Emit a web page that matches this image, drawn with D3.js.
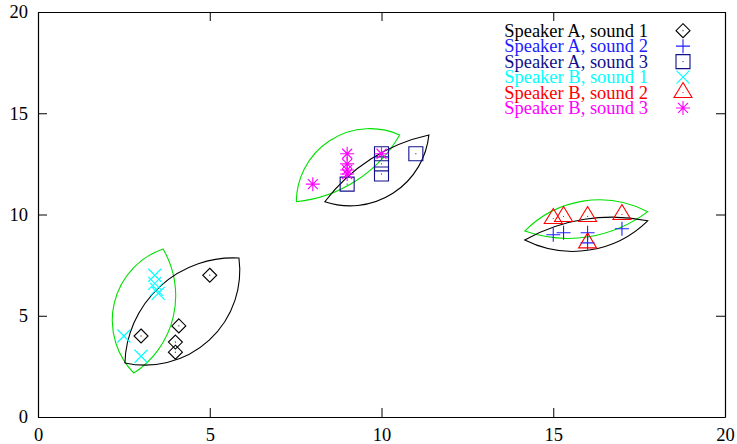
<!DOCTYPE html>
<html>
<head>
<meta charset="utf-8">
<script src="https://cdn.jsdelivr.net/npm/d3@7"></script>
<style>
  html, body { margin: 0; padding: 0; background: #fff; }
  svg { display: block; }
  text { font-family: "Liberation Serif", "DejaVu Serif", serif; }
</style>
</head>
<body>
<div id="chart"></div>
<script>
// ---- data -------------------------------------------------------------
const seriesNames = [
  "Speaker A, sound 1", "Speaker A, sound 2", "Speaker A, sound 3",
  "Speaker B, sound 1", "Speaker B, sound 2", "Speaker B, sound 3"
];
const seriesColors = ["#000000", "#2020ff", "#10108c", "#00ffff", "#ff0000", "#ff00ff"];
const seriesMarkers = ["diamond", "plus", "square", "cross", "triangle", "star"];

const speakerA_sound1_x = [3, 4.1, 4, 4, 5];
const speakerA_sound1_y = [4, 4.5, 3.7, 3.2, 7];
const speakerA_sound2_x = [15, 15.3, 16, 16, 17];
const speakerA_sound2_y = [9, 9.1, 9.1, 8.6, 9.3];
const speakerA_sound3_x = [9, 10, 10, 10, 11];
const speakerA_sound3_y = [11.5, 13, 12.5, 12, 13];
const speakerB_sound1_x = [2.5, 3, 3.4, 3.4, 3.45, 3.5];
const speakerB_sound1_y = [4, 3, 7, 6.6, 6.3, 6.1];
const speakerB_sound2_x = [15, 15.3, 16, 16, 17];
const speakerB_sound2_y = [9.8, 9.9, 9.9, 8.6, 10];
const speakerB_sound3_x = [8, 9, 9, 9, 9, 10];
const speakerB_sound3_y = [11.5, 13, 12.5, 12.2, 12, 13];

const seriesX = [speakerA_sound1_x, speakerA_sound2_x, speakerA_sound3_x,
                 speakerB_sound1_x, speakerB_sound2_x, speakerB_sound3_x];
const seriesY = [speakerA_sound1_y, speakerA_sound2_y, speakerA_sound3_y,
                 speakerB_sound1_y, speakerB_sound2_y, speakerB_sound3_y];

// Cluster outlines: two tips (x1,y1)-(x2,y2) and the bulge of each side
// as a fraction of the tip-to-tip distance.
const lensSpeakerA_x1 = [2.53, 8.35, 14.17];
const lensSpeakerA_y1 = [2.67, 10.63, 8.74];
const lensSpeakerA_x2 = [5.85, 11.38, 17.75];
const lensSpeakerA_y2 = [7.85, 13.93, 9.69];
const lensSpeakerA_bulge1 = [0.21, 0.09, 0.09];
const lensSpeakerA_bulge2 = [0.26, 0.24, 0.16];

const lensSpeakerB_x1 = [2.79, 7.52, 14.17];
const lensSpeakerB_y1 = [2.17, 10.63, 9.18];
const lensSpeakerB_x2 = [3.64, 10.53, 17.75];
const lensSpeakerB_y2 = [8.30, 13.93, 10.14];
const lensSpeakerB_bulge1 = [0.275, 0.27, 0.165];
const lensSpeakerB_bulge2 = [0.2, 0.12, 0.125];

const xTicks = [0, 5, 10, 15, 20];
const yTicks = [0, 5, 10, 15, 20];

// ---- layout -----------------------------------------------------------
const W = 737, H = 444;
const plotLeft = 38, plotRight = 725, plotTop = 12, plotBottom = 417;
const fontSize = 18.5;

const x = d3.scaleLinear().domain([0, 20]).range([plotLeft, plotRight]);
const y = d3.scaleLinear().domain([0, 20]).range([plotBottom, plotTop]);

const svg = d3.select("#chart").append("svg")
  .attr("width", W).attr("height", H);

// ---- frame and ticks --------------------------------------------------
const tickLen = 9;
const axisB = d3.axisBottom(x).tickValues(xTicks).tickSize(-tickLen).tickSizeOuter(0).tickPadding(11);
const axisT = d3.axisTop(x).tickValues(xTicks).tickSize(-tickLen).tickSizeOuter(0).tickFormat("");
const axisL = d3.axisLeft(y).tickValues(yTicks).tickSize(-tickLen).tickSizeOuter(0).tickPadding(10);
const axisR = d3.axisRight(y).tickValues(yTicks).tickSize(-tickLen).tickSizeOuter(0).tickFormat("");

function styleAxis(g) {
  g.attr("font-family", '"Liberation Serif", serif');
  g.select(".domain").attr("stroke", "#000").attr("stroke-width", 1.2);
  g.selectAll(".tick line").attr("stroke", "#000").attr("stroke-width", 1);
  g.selectAll("text").attr("fill", "#000")
    .style("font-family", '"Liberation Serif", serif').style("font-size", fontSize + "px");
}
svg.append("g").attr("transform", `translate(0,${plotBottom})`).call(axisB).call(styleAxis);
svg.append("g").attr("transform", `translate(0,${plotTop})`).call(axisT).call(styleAxis);
svg.append("g").attr("transform", `translate(${plotLeft},0)`).call(axisL).call(styleAxis);
svg.append("g").attr("transform", `translate(${plotRight},0)`).call(axisR).call(styleAxis);

// ---- lens outlines ----------------------------------------------------
function lensPath(x1, y1, x2, y2, b1, b2) {
  const p1 = [x(x1), y(y1)], p2 = [x(x2), y(y2)];
  const L = Math.hypot(p2[0] - p1[0], p2[1] - p1[1]);
  const s1 = b1 * L, s2 = b2 * L;
  const r1 = (L * L / 4 + s1 * s1) / (2 * s1);
  const r2 = (L * L / 4 + s2 * s2) / (2 * s2);
  return `M${p1[0]},${p1[1]} A${r1},${r1} 0 0 1 ${p2[0]},${p2[1]} ` +
         `A${r2},${r2} 0 0 1 ${p1[0]},${p1[1]} Z`;
}
function drawLenses(xs1, ys1, xs2, ys2, bs1, bs2, color) {
  svg.append("g").selectAll("path").data(d3.range(xs1.length)).join("path")
    .attr("d", i => lensPath(xs1[i], ys1[i], xs2[i], ys2[i], bs1[i], bs2[i]))
    .attr("fill", "none").attr("stroke", color).attr("stroke-width", 1.1);
}
drawLenses(lensSpeakerB_x1, lensSpeakerB_y1, lensSpeakerB_x2, lensSpeakerB_y2,
           lensSpeakerB_bulge1, lensSpeakerB_bulge2, "#00e000");
drawLenses(lensSpeakerA_x1, lensSpeakerA_y1, lensSpeakerA_x2, lensSpeakerA_y2,
           lensSpeakerA_bulge1, lensSpeakerA_bulge2, "#000000");

// ---- point markers ----------------------------------------------------
function markerPath(type) {
  switch (type) {
    case "diamond": return "M0,-7L7,0L0,7L-7,0Z";
    case "plus": return "M-7,0H7M0,-7V7";
    case "square": return "M-7,-7H7V7H-7Z";
    case "cross": return "M-6.5,-6.5L6.5,6.5M-6.5,6.5L6.5,-6.5";
    case "triangle": return "M0,-10L9,5H-9Z";
    case "star": return "M-7,0H7M0,-7V7M-5,-5L5,5M-5,5L5,-5";
  }
}
const hasDot = { diamond: true, square: true, triangle: true };

function drawMarker(g, type, color, px, py) {
  g.append("path").attr("transform", `translate(${px},${py})`)
    .attr("d", markerPath(type)).attr("fill", "none")
    .attr("stroke", color).attr("stroke-width", 1.1);
  if (hasDot[type]) {
    g.append("rect").attr("x", px - 0.5).attr("y", py - 0.5)
      .attr("width", 1).attr("height", 1).attr("fill", color);
  }
}

seriesNames.forEach((name, s) => {
  const g = svg.append("g");
  seriesX[s].forEach((vx, i) => drawMarker(g, seriesMarkers[s], seriesColors[s], x(vx), y(seriesY[s][i])));
});

// ---- key --------------------------------------------------------------
const keyTextRight = 648, keySymbolX = 683, keyBase = 36.7, keyStep = 15.45;
const key = svg.append("g");
seriesNames.forEach((name, s) => {
  const by = keyBase + s * keyStep;
  key.append("text").attr("x", keyTextRight).attr("y", by)
    .attr("text-anchor", "end").attr("fill", seriesColors[s])
    .style("font-family", '"Liberation Serif", serif')
    .style("font-size", fontSize + "px").text(name);
  drawMarker(key, seriesMarkers[s], seriesColors[s], keySymbolX, by - 6);
});
</script>
</body>
</html>
